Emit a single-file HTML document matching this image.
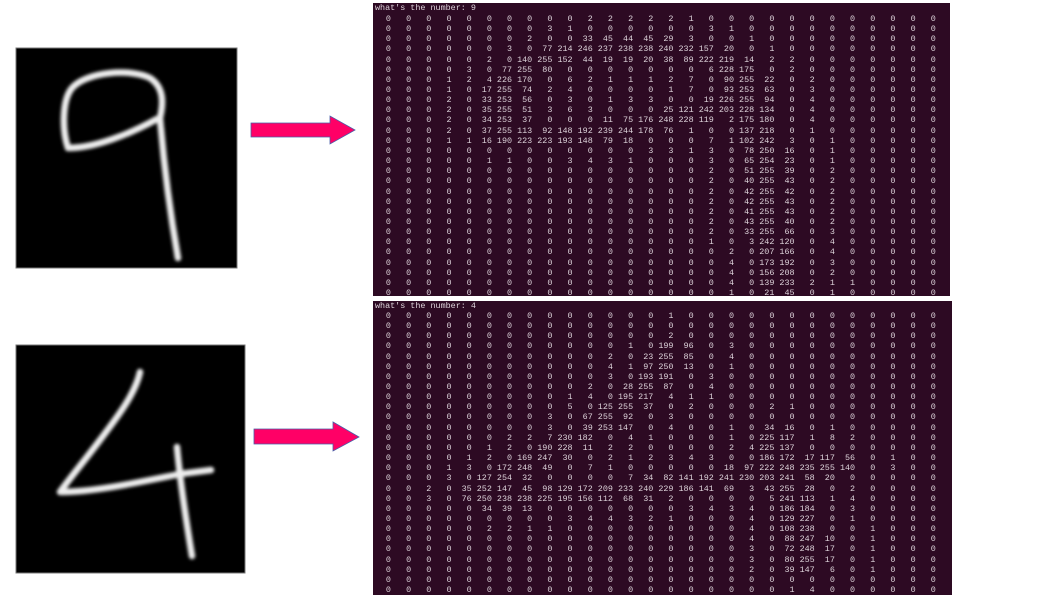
<!DOCTYPE html>
<html><head><meta charset="utf-8"><style>
html,body{margin:0;padding:0;background:#fff;width:1058px;height:595px;overflow:hidden;position:relative;font-family:"Liberation Sans",sans-serif}
.term{position:absolute;background:#2d0a23}
pre{position:absolute;margin:0;font-family:"Liberation Mono",monospace;font-size:8.42px;line-height:10.15px;color:#ddd3da;white-space:pre}
svg{position:absolute;left:0;top:0}
</style></head><body>
<div class="term" style="left:373px;top:3px;width:577px;height:293px"></div>
<div class="term" style="left:373px;top:301px;width:579px;height:294px"></div>
<pre style="left:375px;top:3px">what's the number: 9</pre>
<pre style="left:370.8px;top:13.9px">   0   0   0   0   0   0   0   0   0   0   2   2   2   2   2   1   0   0   0   0   0   0   0   0   0   0   0   0
   0   0   0   0   0   0   0   0   3   1   0   0   0   0   0   0   3   1   0   0   0   0   0   0   0   0   0   0
   0   0   0   0   0   0   0   2   0   0  33  45  44  45  29   3   0   0   1   0   0   0   0   0   0   0   0   0
   0   0   0   0   0   0   3   0  77 214 246 237 238 238 240 232 157  20   0   1   0   0   0   0   0   0   0   0
   0   0   0   0   0   2   0 140 255 152  44  19  19  20  38  89 222 219  14   2   2   0   0   0   0   0   0   0
   0   0   0   0   3   0  77 255  80   0   0   0   0   0   0   0   6 228 175   0   2   0   0   0   0   0   0   0
   0   0   0   1   2   4 226 170   0   6   2   1   1   1   2   7   0  90 255  22   0   2   0   0   0   0   0   0
   0   0   0   1   0  17 255  74   2   4   0   0   0   0   1   7   0  93 253  63   0   3   0   0   0   0   0   0
   0   0   0   2   0  33 253  56   0   3   0   1   3   3   0   0  19 226 255  94   0   4   0   0   0   0   0   0
   0   0   0   2   0  35 255  51   3   6   3   0   0   0  25 121 242 203 228 134   0   4   0   0   0   0   0   0
   0   0   0   2   0  34 253  37   0   0   0  11  75 176 248 228 119   2 175 180   0   4   0   0   0   0   0   0
   0   0   0   2   0  37 255 113  92 148 192 239 244 178  76   1   0   0 137 218   0   1   0   0   0   0   0   0
   0   0   0   1   1  16 190 223 223 193 148  79  18   0   0   0   7   1 102 242   3   0   1   0   0   0   0   0
   0   0   0   0   0   0   0   0   0   0   0   0   0   3   3   1   3   0  78 250  16   0   1   0   0   0   0   0
   0   0   0   0   0   1   1   0   0   3   4   3   1   0   0   0   3   0  65 254  23   0   1   0   0   0   0   0
   0   0   0   0   0   0   0   0   0   0   0   0   0   0   0   0   2   0  51 255  39   0   2   0   0   0   0   0
   0   0   0   0   0   0   0   0   0   0   0   0   0   0   0   0   2   0  40 255  43   0   2   0   0   0   0   0
   0   0   0   0   0   0   0   0   0   0   0   0   0   0   0   0   2   0  42 255  42   0   2   0   0   0   0   0
   0   0   0   0   0   0   0   0   0   0   0   0   0   0   0   0   2   0  42 255  43   0   2   0   0   0   0   0
   0   0   0   0   0   0   0   0   0   0   0   0   0   0   0   0   2   0  41 255  43   0   2   0   0   0   0   0
   0   0   0   0   0   0   0   0   0   0   0   0   0   0   0   0   2   0  43 255  40   0   2   0   0   0   0   0
   0   0   0   0   0   0   0   0   0   0   0   0   0   0   0   0   2   0  33 255  66   0   3   0   0   0   0   0
   0   0   0   0   0   0   0   0   0   0   0   0   0   0   0   0   1   0   3 242 120   0   4   0   0   0   0   0
   0   0   0   0   0   0   0   0   0   0   0   0   0   0   0   0   0   2   0 207 166   0   4   0   0   0   0   0
   0   0   0   0   0   0   0   0   0   0   0   0   0   0   0   0   0   4   0 173 192   0   3   0   0   0   0   0
   0   0   0   0   0   0   0   0   0   0   0   0   0   0   0   0   0   4   0 156 208   0   2   0   0   0   0   0
   0   0   0   0   0   0   0   0   0   0   0   0   0   0   0   0   0   4   0 139 233   2   1   1   0   0   0   0
   0   0   0   0   0   0   0   0   0   0   0   0   0   0   0   0   0   1   0  21  45   0   1   0   0   0   0   0</pre>
<pre style="left:375px;top:300.5px">what's the number: 4</pre>
<pre style="left:370.8px;top:310.9px">   0   0   0   0   0   0   0   0   0   0   0   0   0   0   1   0   0   0   0   0   0   0   0   0   0   0   0   0
   0   0   0   0   0   0   0   0   0   0   0   0   0   0   0   0   0   0   0   0   0   0   0   0   0   0   0   0
   0   0   0   0   0   0   0   0   0   0   0   0   0   0   2   0   0   0   0   0   0   0   0   0   0   0   0   0
   0   0   0   0   0   0   0   0   0   0   0   0   1   0 199  96   0   3   0   0   0   0   0   0   0   0   0   0
   0   0   0   0   0   0   0   0   0   0   0   2   0  23 255  85   0   4   0   0   0   0   0   0   0   0   0   0
   0   0   0   0   0   0   0   0   0   0   0   4   1  97 250  13   0   1   0   0   0   0   0   0   0   0   0   0
   0   0   0   0   0   0   0   0   0   0   0   3   0 193 191   0   3   0   0   0   0   0   0   0   0   0   0   0
   0   0   0   0   0   0   0   0   0   0   2   0  28 255  87   0   4   0   0   0   0   0   0   0   0   0   0   0
   0   0   0   0   0   0   0   0   0   1   4   0 195 217   4   1   1   0   0   0   0   0   0   0   0   0   0   0
   0   0   0   0   0   0   0   0   0   5   0 125 255  37   0   2   0   0   0   2   1   0   0   0   0   0   0   0
   0   0   0   0   0   0   0   0   3   0  67 255  92   0   3   0   0   0   0   0   0   0   0   0   0   0   0   0
   0   0   0   0   0   0   0   0   3   0  39 253 147   0   4   0   0   1   0  34  16   0   1   0   0   0   0   0
   0   0   0   0   0   0   2   2   7 230 182   0   4   1   0   0   0   1   0 225 117   1   8   2   0   0   0   0
   0   0   0   0   0   1   2   0 190 228  11   2   2   0   0   0   0   2   4 225 137   0   0   0   0   0   0   0
   0   0   0   0   1   2   0 169 247  30   0   2   1   2   3   4   3   0   0 186 172  17 117  56   0   1   0   0
   0   0   0   1   3   0 172 248  49   0   7   1   0   0   0   0   0  18  97 222 248 235 255 140   0   3   0   0
   0   0   0   3   0 127 254  32   0   0   0   0   7  34  82 141 192 241 230 203 241  58  20   0   0   0   0   0
   0   0   2   0  35 252 147  45  98 129 172 209 233 240 229 186 141  69   3  43 255  28   0   2   0   0   0   0
   0   0   3   0  76 250 238 238 225 195 156 112  68  31   2   0   0   0   0   5 241 113   1   4   0   0   0   0
   0   0   0   0   0  34  39  13   0   0   0   0   0   0   0   3   4   3   4   0 186 184   0   3   0   0   0   0
   0   0   0   0   0   0   0   0   0   3   4   4   3   2   1   0   0   0   4   0 129 227   0   1   0   0   0   0
   0   0   0   0   0   2   2   1   1   0   0   0   0   0   0   0   0   0   4   0 108 238   0   0   1   0   0   0
   0   0   0   0   0   0   0   0   0   0   0   0   0   0   0   0   0   0   4   0  88 247  10   0   1   0   0   0
   0   0   0   0   0   0   0   0   0   0   0   0   0   0   0   0   0   0   3   0  72 248  17   0   1   0   0   0
   0   0   0   0   0   0   0   0   0   0   0   0   0   0   0   0   0   0   3   0  80 255  17   0   1   0   0   0
   0   0   0   0   0   0   0   0   0   0   0   0   0   0   0   0   0   0   2   0  39 147   6   0   1   0   0   0
   0   0   0   0   0   0   0   0   0   0   0   0   0   0   0   0   0   0   0   0   0   0   0   0   0   0   0   0
   0   0   0   0   0   0   0   0   0   0   0   0   0   0   0   0   0   0   0   0   1   4   0   0   0   0   0   0</pre>
<svg width="1058" height="595" viewBox="0 0 1058 595">
<defs><filter id="b" x="-20%" y="-20%" width="140%" height="140%"><feGaussianBlur stdDeviation="1.6"/></filter></defs>
<rect x="16" y="48" width="221" height="220" fill="#000" stroke="#777" stroke-width="1"/>
<g filter="url(#b)" fill="none" stroke="#eee" stroke-width="6.5" stroke-linecap="round" stroke-linejoin="round">
<path d="M157,119 C130,134 95,148 68,148 C62,130 62,100 72,88 C86,72 130,68 150,78 C165,88 163,105 160,118 Q166,190 178,258"/>
</g>
<rect x="16" y="345" width="229" height="228" fill="#000" stroke="#777" stroke-width="1"/>
<g filter="url(#b)" fill="none" stroke="#eee" stroke-width="6.5" stroke-linecap="round" stroke-linejoin="round">
<path d="M140,372 C135,395 115,420 100,440 C85,460 70,478 60,492 C95,492 140,482 180,474 L211,470"/>
<path d="M177,447 C180,480 186,520 192,556"/>
</g>
<polygon points="251,123 330,123 330,116 355,130 330,144 330,137 251,137" fill="#ff0066" stroke="#4a5fa8" stroke-width="0.8"/>
<polygon points="254,429 333,429 333,422 359,437 333,451 333,444 254,444" fill="#ff0066" stroke="#4a5fa8" stroke-width="0.8"/>
</svg>
</body></html>
